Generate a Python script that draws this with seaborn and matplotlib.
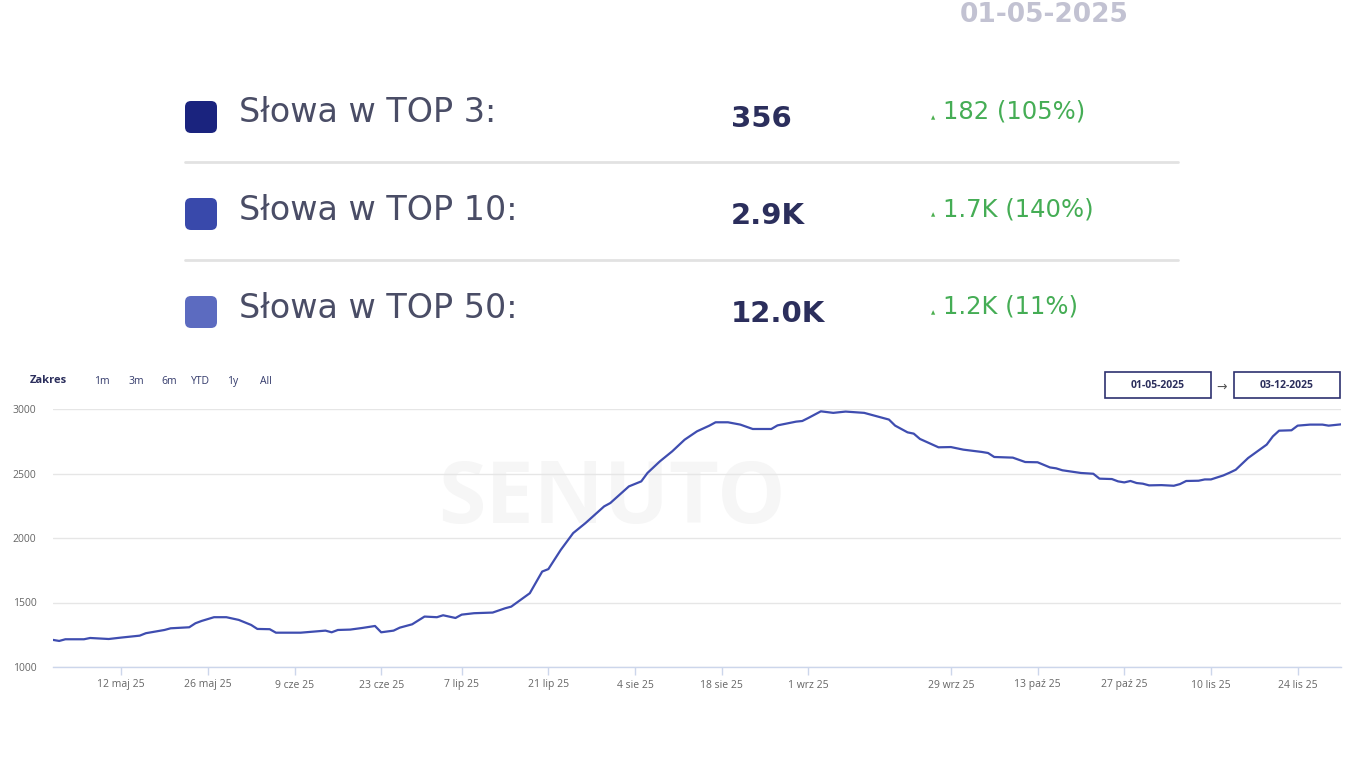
import numpy as np
import pandas as pd
import seaborn as sns
import matplotlib.pyplot as plt
from matplotlib.patches import FancyBboxPatch, Rectangle
from matplotlib.lines import Line2D
from matplotlib.transforms import IdentityTransform

W, H = 1366, 768

# summary rows
rows = ["Słowa w TOP 3:", "Słowa w TOP 10:", "Słowa w TOP 50:"]
totals = ["356", "2.9K", "12.0K"]
changes = ["182 (105%)", "1.7K (140%)", "1.2K (11%)"]
row_colors = ["#1a237e", "#3949ab", "#5c6bc0"]

range_buttons = ["1m", "3m", "6m", "YTD", "1y", "All"]
date_from = "01-05-2025"
date_to = "03-12-2025"

# days without data (the chart axis skips them)
missing_days = ["2025-06-30", "2025-09-11", "2025-09-12", "2025-09-13",
                "2025-09-14", "2025-09-15"]

# values
obs_dates = ["2025-05-01", "2025-05-02", "2025-05-03", "2025-05-06", "2025-05-07",
             "2025-05-10", "2025-05-12", "2025-05-15", "2025-05-16", "2025-05-19",
             "2025-05-20", "2025-05-23", "2025-05-24", "2025-05-25", "2025-05-27",
             "2025-05-29", "2025-05-31", "2025-06-02", "2025-06-03", "2025-06-05",
             "2025-06-06", "2025-06-10", "2025-06-14", "2025-06-15", "2025-06-16",
             "2025-06-18", "2025-06-20", "2025-06-22", "2025-06-23", "2025-06-25",
             "2025-06-26", "2025-06-28", "2025-07-01", "2025-07-03", "2025-07-04",
             "2025-07-06", "2025-07-07", "2025-07-09", "2025-07-12", "2025-07-14",
             "2025-07-15", "2025-07-18", "2025-07-20", "2025-07-21", "2025-07-23",
             "2025-07-25", "2025-07-27", "2025-07-30", "2025-07-31", "2025-08-03",
             "2025-08-05", "2025-08-06", "2025-08-08", "2025-08-10", "2025-08-12",
             "2025-08-14", "2025-08-16", "2025-08-17", "2025-08-19", "2025-08-21",
             "2025-08-23", "2025-08-26", "2025-08-27", "2025-08-30", "2025-08-31",
             "2025-09-01", "2025-09-03", "2025-09-05", "2025-09-07", "2025-09-10",
             "2025-09-18", "2025-09-19", "2025-09-20", "2025-09-22", "2025-09-23",
             "2025-09-24", "2025-09-27", "2025-09-29", "2025-10-01", "2025-10-04",
             "2025-10-05", "2025-10-06", "2025-10-09", "2025-10-11", "2025-10-13",
             "2025-10-15", "2025-10-16", "2025-10-17", "2025-10-20", "2025-10-22",
             "2025-10-23", "2025-10-25", "2025-10-26", "2025-10-27", "2025-10-28",
             "2025-10-29", "2025-10-30", "2025-10-31", "2025-11-02", "2025-11-04",
             "2025-11-05", "2025-11-06", "2025-11-08", "2025-11-09", "2025-11-10",
             "2025-11-12", "2025-11-13", "2025-11-14", "2025-11-16", "2025-11-19",
             "2025-11-20", "2025-11-21", "2025-11-23", "2025-11-24", "2025-11-26",
             "2025-11-28", "2025-11-29", "2025-11-30", "2025-12-01"]
obs_values = [1210, 1202, 1215, 1215, 1225,
              1217, 1228, 1243, 1262, 1287,
              1300, 1308, 1339, 1357, 1386,
              1386, 1365, 1326, 1295, 1293,
              1266, 1266, 1282, 1269, 1287,
              1290, 1303, 1318, 1269, 1282,
              1305, 1331, 1391, 1386, 1401,
              1380, 1406, 1417, 1422, 1455,
              1468, 1572, 1740, 1759, 1908,
              2038, 2116, 2245, 2271, 2400,
              2439, 2504, 2594, 2672, 2762,
              2827, 2871, 2897, 2897, 2879,
              2845, 2845, 2873, 2902, 2907,
              2931, 2982, 2970, 2980, 2970,
              2931, 2918, 2871, 2819, 2809,
              2768, 2703, 2705, 2685, 2667,
              2659, 2628, 2623, 2589, 2587,
              2547, 2540, 2525, 2504, 2498,
              2460, 2457, 2439, 2431, 2442,
              2426, 2421, 2408, 2410, 2405,
              2418, 2442, 2444, 2454, 2454,
              2485, 2506, 2529, 2620, 2724,
              2788, 2832, 2835, 2871, 2879,
              2879, 2871, 2876, 2881]

tick_dates = ["2025-05-12", "2025-05-26", "2025-06-09", "2025-06-23", "2025-07-07",
              "2025-07-21", "2025-08-04", "2025-08-18", "2025-09-01", "2025-09-29",
              "2025-10-13", "2025-10-27", "2025-11-10", "2025-11-24"]
tick_labels = ["12 maj 25", "26 maj 25", "9 cze 25", "23 cze 25", "7 lip 25",
               "21 lip 25", "4 sie 25", "18 sie 25", "1 wrz 25", "29 wrz 25",
               "13 paź 25", "27 paź 25", "10 lis 25", "24 lis 25"]
y_ticks = [1000, 1500, 2000, 2500, 3000]

# ordinal axis: one slot per day that has data
days = pd.date_range("2025-05-01", "2025-12-01")
days = days[~days.isin(pd.to_datetime(missing_days))]
slot = pd.Series(np.arange(len(days)), index=days)
df = pd.DataFrame({"pos": slot[pd.to_datetime(obs_dates)].values, "value": obs_values})
tick_pos = slot[pd.to_datetime(tick_dates)].values

sns.set_theme(style="white")
plt.rcParams["font.family"] = ["Open Sans", "DejaVu Sans"]
wide = ["DejaVu Sans"]

fig = plt.figure(figsize=(W / 100, H / 100), dpi=100)
fig.patch.set_facecolor("white")


def fx(x):
    return x / W


def fy(y):
    return 1 - y / H


# blurred date on top
fig.text(fx(1044), fy(15), date_from, ha="center", va="center", fontsize=19,
         fontweight="bold", color="#c2c2d2", family=wide)

row_y = [113, 210, 308]
for i in range(3):
    y = row_y[i]
    sq = FancyBboxPatch((185, H - y - 20), 32, 32, boxstyle="round,pad=0,rounding_size=6",
                        transform=IdentityTransform(), facecolor=row_colors[i], edgecolor="none")
    fig.add_artist(sq)
    fig.text(fx(239), fy(y), rows[i], ha="left", va="center", fontsize=24,
             color="#4a4d66", family=wide)
    fig.text(fx(731), fy(y + 6), totals[i], ha="left", va="center", fontsize=21,
             fontweight="bold", color="#2b2e5c", family=wide)
    fig.text(fx(933), fy(y + 5), "▲", ha="center", va="center", fontsize=4,
             color="#4caf50", family=wide)
    fig.text(fx(943), fy(y - 1), changes[i], ha="left", va="center", fontsize=17.5,
             color="#45ad55", family=wide)

for y in [162, 260]:
    fig.add_artist(Line2D([fx(185), fx(1178)], [fy(y), fy(y)], color="#e2e2e2", lw=2))

# range selector
fig.text(fx(30), fy(380), "Zakres", ha="left", va="center", fontsize=8,
         fontweight="bold", color="#2b2e5c")
btn_x = [102, 136, 169, 200, 233, 266]
for b, x in zip(range_buttons, btn_x):
    fig.text(fx(x), fy(382), b, ha="center", va="center", fontsize=7.5, color="#333a6b")

# date boxes
for x0, txt in [(1105, date_from), (1234, date_to)]:
    fig.add_artist(Rectangle((x0, H - 398), 106, 26, transform=IdentityTransform(),
                             facecolor="white", edgecolor="#2e3170", lw=1.2))
    fig.text(fx(x0 + 53), fy(385), txt, ha="center", va="center", fontsize=7.5,
             fontweight="bold", color="#2b2e5c")
fig.text(fx(1222), fy(387), "→", ha="center", va="center", fontsize=9, color="#555555",
         family=wide)

# line chart
ax = fig.add_axes([fx(53), fy(667), (1341 - 53) / W, (667 - 409) / H])
ax.text(0.434, 0.647, "SENUTO", transform=ax.transAxes, ha="center", va="center",
        fontsize=62, fontweight="bold", color="#f6f6f6", zorder=0)
sns.lineplot(data=df, x="pos", y="value", ax=ax, color="#3f4db0", linewidth=1.6, zorder=3)
ax.set_xlim(0, len(days) - 1)
ax.set_ylim(1000, 3000)
ax.set_yticks(y_ticks)
ax.set_yticklabels([str(v) for v in y_ticks])
ax.set_xticks(tick_pos)
ax.set_xticklabels(tick_labels)
ax.set_xlabel("")
ax.set_ylabel("")
ax.grid(axis="y", color="#e6e6e6", lw=1)
ax.grid(axis="x", visible=False)
for s in ["top", "left", "right"]:
    ax.spines[s].set_visible(False)
ax.spines["bottom"].set_color("#ccd6eb")
ax.spines["bottom"].set_linewidth(1)
ax.tick_params(axis="y", length=0, pad=12, labelsize=7.5, labelcolor="#666666")
ax.tick_params(axis="x", length=6, width=1, color="#ccd6eb", pad=3, labelsize=7.5,
               labelcolor="#666666", bottom=True)

fig.savefig("out.png", dpi=100, facecolor="white")
